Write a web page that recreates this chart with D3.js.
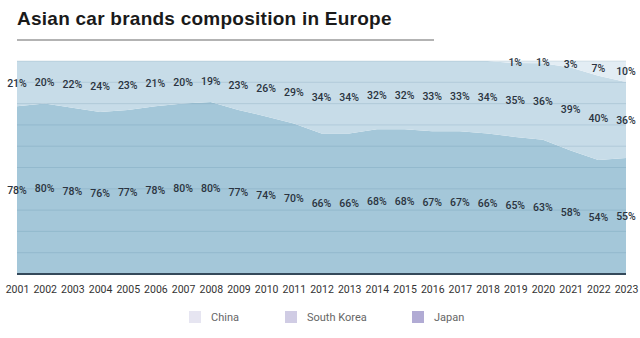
<!DOCTYPE html>
<html>
<head>
<meta charset="utf-8">
<script src="https://cdn.jsdelivr.net/npm/d3@7"></script>
<style>
  body { margin: 0; background: #fff; }
  svg { display: block; }
</style>
</head>
<body>
<div id="chart"></div>
<script>
// data
const years = d3.range(2001, 2024);
const japan = [78, 80, 78, 76, 77, 78, 80, 80, 77, 74, 70, 66, 66, 68, 68, 67, 67, 66, 65, 63, 58, 54, 55];
const southKorea = [21, 20, 22, 24, 23, 21, 20, 19, 23, 26, 29, 34, 34, 32, 32, 33, 33, 34, 35, 36, 39, 40, 36];
const china = [0, 0, 0, 0, 0, 0, 0, 0, 0, 0, 0, 0, 0, 0, 0, 0, 0, 0, 1, 1, 3, 7, 10];
const gridTicks = d3.range(0, 1.01, 0.1);

const keys = ["Japan", "South Korea", "China"];
const colors = {"Japan": "#a4c7d9", "South Korea": "#c7dce8", "China": "#e3edf4"};
const legendColors = {"China": "#e6e5f1", "South Korea": "#d0cce4", "Japan": "#b1abd4"};

const table = years.map((y, i) => ({
  year: y,
  "Japan": japan[i],
  "South Korea": southKorea[i],
  "China": china[i]
}));

const width = 640, height = 338;
const margin = {top: 61, right: 14, bottom: 64, left: 17};

const svg = d3.select("#chart").append("svg")
  .attr("width", width)
  .attr("height", height);

// title
svg.append("text")
  .attr("x", 17)
  .attr("y", 25)
  .style("font-family", "Liberation Sans, Arial, sans-serif")
  .style("font-weight", "bold")
  .style("font-size", "19px")
  .style("letter-spacing", "0.25px")
  .attr("fill", "#1a1a1a")
  .text("Asian car brands composition in Europe");

svg.append("line")
  .attr("x1", 17).attr("x2", 434)
  .attr("y1", 40).attr("y2", 40)
  .attr("stroke", "#9a9a9a")
  .attr("stroke-width", 1.5);

const x = d3.scaleLinear()
  .domain([2001, 2023])
  .range([margin.left, width - margin.right]);

const y = d3.scaleLinear()
  .domain([0, 1])
  .range([height - margin.bottom, margin.top]);

const stack = d3.stack()
  .keys(keys)
  .offset(d3.stackOffsetExpand);
const series = stack(table);

const area = d3.area()
  .x(d => x(d.data.year))
  .y0(d => y(d[0]))
  .y1(d => y(d[1]));

svg.append("g")
  .selectAll("path")
  .data(series)
  .join("path")
  .attr("d", area)
  .attr("fill", d => colors[d.key]);

// gridlines
svg.append("g")
  .selectAll("line")
  .data(gridTicks.slice(1))
  .join("line")
  .attr("x1", x(2001))
  .attr("x2", x(2023))
  .attr("y1", d => y(d))
  .attr("y2", d => y(d))
  .attr("stroke", "rgba(60,110,140,0.16)")
  .attr("stroke-width", 1);

// baseline
svg.append("line")
  .attr("x1", x(2001)).attr("x2", x(2023))
  .attr("y1", y(0)).attr("y2", y(0))
  .attr("stroke", "#34495a")
  .attr("stroke-width", 2);

// x axis
const xAxis = d3.axisBottom(x)
  .tickValues(years)
  .tickFormat(d3.format("d"))
  .tickSize(0)
  .tickPadding(12);

const gx = svg.append("g")
  .attr("transform", `translate(0,${y(0)})`)
  .call(xAxis);
gx.select(".domain").remove();
gx.selectAll("text")
  .style("font-family", "Roboto, sans-serif")
  .style("font-size", "10.5px")
  .attr("fill", "#333");

// value labels
const labelG = svg.append("g")
  .style("font-family", "Roboto, sans-serif")
  .style("font-size", "10.5px")
  .style("font-weight", "500")
  .attr("fill", "#2b3440")
  .attr("text-anchor", "middle");

series.forEach(s => {
  labelG.selectAll(null)
    .data(s.filter(d => d.data[s.key] > 0))
    .join("text")
    .attr("x", d => x(d.data.year))
    .attr("y", d => y((d[0] + d[1]) / 2))
    .attr("dy", "0.35em")
    .text(d => d.data[s.key] + "%");
});

// legend
const legendItems = [
  {key: "China", x: 189},
  {key: "South Korea", x: 285},
  {key: "Japan", x: 412}
];
const lg = svg.append("g");
lg.selectAll("rect")
  .data(legendItems)
  .join("rect")
  .attr("x", d => d.x)
  .attr("y", 311)
  .attr("width", 12)
  .attr("height", 12)
  .attr("fill", d => legendColors[d.key]);
lg.selectAll("text")
  .data(legendItems)
  .join("text")
  .attr("x", d => d.x + 22)
  .attr("y", 317)
  .attr("dy", "0.35em")
  .style("font-family", "Roboto, sans-serif")
  .style("font-size", "11px")
  .attr("fill", "#666")
  .text(d => d.key);
</script>
</body>
</html>
